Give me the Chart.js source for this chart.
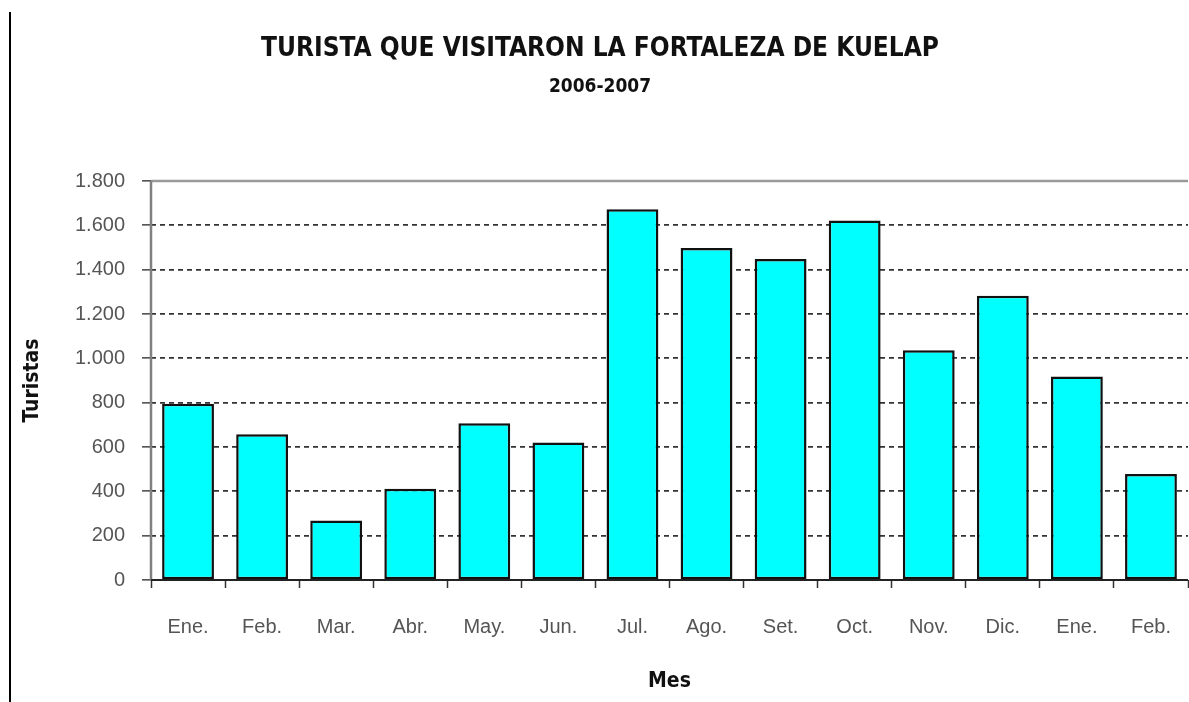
<!DOCTYPE html>
<html>
<head>
<meta charset="utf-8">
<script src="https://cdn.jsdelivr.net/npm/chart.js@4"></script>
<style>
  html, body { margin: 0; padding: 0; background: #fff; }
  #wrap { width: 1189px; height: 702px; }
</style>
</head>
<body>
<div id="wrap"><canvas id="c" width="1189" height="702"></canvas></div>
<script>
const categories = ['Ene.', 'Feb.', 'Mar.', 'Abr.', 'May.', 'Jun.', 'Jul.', 'Ago.', 'Set.', 'Oct.', 'Nov.', 'Dic.', 'Ene.', 'Feb.'];
const turistas = [795, 658, 268, 412, 707, 620, 1672, 1498, 1448, 1622, 1036, 1282, 918, 478];
const yTicks = [0, 200, 400, 600, 800, 1000, 1200, 1400, 1600, 1800];
const titleText = 'TURISTA QUE VISITARON LA FORTALEZA DE KUELAP';
const subtitleText = '2006-2007';
const yTitle = 'Turistas';
const xTitle = 'Mes';

const NARROW = '"Liberation Sans Narrow", "Arial Narrow", "DejaVu Sans Condensed", sans-serif';
const SANS = '"Liberation Sans", Arial, sans-serif';

function fmt(v) { return String(v).replace(/\B(?=(\d{3})+(?!\d))/g, '.'); }

const framePlugin = {
  id: 'frame',
  afterDatasetsDraw(chart) {
    const { ctx, chartArea: a } = chart;
    ctx.save();
    ctx.strokeStyle = '#000';
    ctx.lineWidth = 2;
    ctx.beginPath(); ctx.moveTo(10, 12); ctx.lineTo(10, 702); ctx.stroke();
    ctx.strokeStyle = '#9a9a9a';
    ctx.lineWidth = 2.5;
    ctx.beginPath(); ctx.moveTo(a.left, a.top); ctx.lineTo(a.right, a.top); ctx.stroke();
    ctx.strokeStyle = '#808080';
    ctx.beginPath(); ctx.moveTo(a.left, a.top); ctx.lineTo(a.left, a.bottom); ctx.stroke();
    ctx.strokeStyle = '#222';
    ctx.lineWidth = 2;
    ctx.beginPath(); ctx.moveTo(a.left, a.bottom); ctx.lineTo(a.right, a.bottom); ctx.stroke();
    ctx.restore();
  }
};

new Chart(document.getElementById('c'), {
  type: 'bar',
  data: {
    labels: categories,
    datasets: [{
      label: yTitle,
      data: turistas,
      backgroundColor: '#00FFFF',
      borderColor: '#111',
      borderWidth: 2.5,
      borderSkipped: false,
      barPercentage: 0.7,
      categoryPercentage: 1.0
    }]
  },
  options: {
    responsive: false,
    animation: false,
    layout: { padding: { left: 12, right: 1, top: 10, bottom: 0 } },
    plugins: {
      legend: { display: false },
      tooltip: { enabled: false },
      title: {
        display: true,
        text: titleText,
        color: '#111',
        font: { family: NARROW, size: 26, weight: 'bold' },
        padding: { top: 23.4, bottom: 0 }
      },
      subtitle: {
        display: true,
        text: subtitleText,
        color: '#111',
        font: { family: NARROW, size: 19, weight: 'bold' },
        padding: { top: 11, bottom: 82.6 }
      }
    },
    scales: {
      x: {
        grid: { display: true, drawOnChartArea: false, drawTicks: true, tickLength: 8, tickColor: '#333', tickWidth: 1.5, offset: true },
        border: { display: false },
        ticks: { color: '#555', font: { family: SANS, size: 20 }, padding: 27, maxRotation: 0, autoSkip: false },
        title: { display: true, text: xTitle, color: '#111', font: { family: NARROW, size: 21, weight: 'bold' }, padding: { top: 28, bottom: 7.4 } },
        afterFit(s) { s.height = 122; s.paddingLeft = 0; s.paddingRight = 0; }
      },
      y: {
        min: 0, max: 1800,
        afterBuildTicks(s) { s.ticks = yTicks.map(v => ({ value: v })); },
        grid: {
          color: (c) => (c.tick && (c.tick.value === 0 || c.tick.value === 1800)) ? 'rgba(0,0,0,0)' : '#333',
          lineWidth: 1.7,
          tickLength: 9, tickColor: '#444', tickWidth: 1.5
        },
        border: { display: false, dash: [5, 4] },
        ticks: { color: '#555', font: { family: SANS, size: 20 }, padding: 17, callback: (v) => fmt(v) },
        title: { display: true, text: yTitle, color: '#111', font: { family: NARROW, size: 21, weight: 'bold' }, padding: { top: 8.4, bottom: 0 } },
        afterFit(s) { s.width = 139; }
      }
    }
  },
  plugins: [framePlugin]
});
</script>
</body>
</html>
